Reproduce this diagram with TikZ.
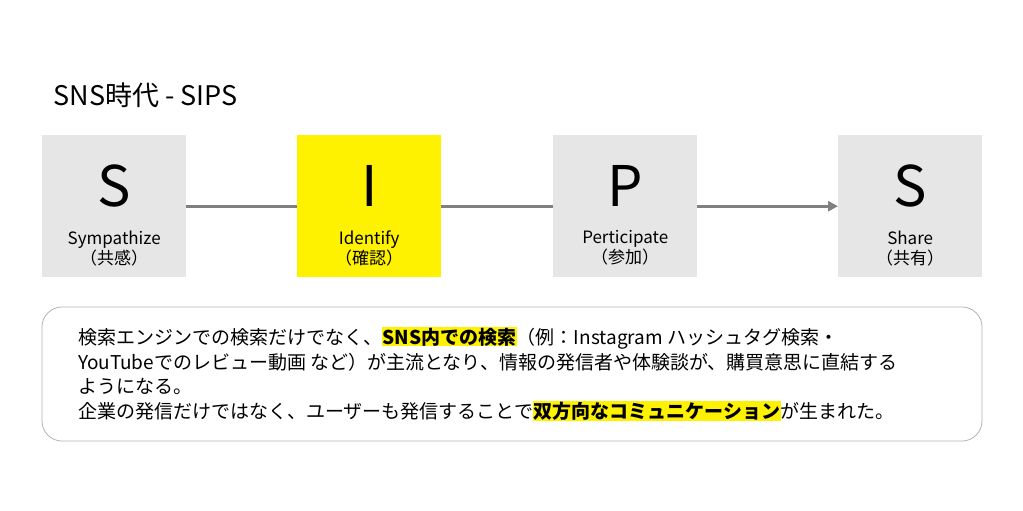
\documentclass[tikz,border=0pt]{standalone}
\usepackage{fontspec}
\setmainfont{Noto Sans CJK JP}
\usetikzlibrary{arrows.meta}
\definecolor{boxg}{HTML}{E7E6E6}
\definecolor{lineg}{HTML}{808080}
\newcommand{\hl}[1]{{\setlength{\fboxsep}{0.5pt}\colorbox{yellow}{\bfseries #1}}}
\begin{document}
\begin{tikzpicture}[x=1pt,y=-1pt,
  stagebox/.style={minimum width=144pt,minimum height=142pt,inner sep=0pt,anchor=north west},
  bigl/.style={font=\fontsize{56}{56}\selectfont},
  lab/.style={font=\fontsize{17}{20}\selectfont,align=center},
  conn/.style={draw=lineg,line width=3pt},
  body/.style={anchor=west,inner sep=0pt,font=\fontsize{19}{22}\selectfont}]
\useasboundingbox (0,0) rectangle (1023,511);
\node[anchor=west,font=\fontsize{27}{30}\selectfont] (title) at (50,95) {SNS時代 - SIPS};
\node[stagebox,fill=boxg] (b1) at (42,135) {};
\node[stagebox,fill=yellow] (b2) at (297,135) {};
\node[stagebox,fill=boxg] (b3) at (553,135) {};
\node[stagebox,fill=boxg] (b4) at (838,135) {};
\foreach \n/\L/\a/\b in {b1/S/Sympathize/（共感）,b2/I/Identify/（確認）,b3/P/Perticipate/（参加）,b4/S/Share/（共有）}{
  \node[bigl] (\n L) at ([yshift=20pt]\n.center) {\L};
  \node[lab] (\n t) at ([yshift=-42pt]\n.center) {\a\\\b};
}
\draw[conn] (b1.east) -- (b2.west);
\draw[conn] (b2.east) -- (b3.west);
\draw[conn,-{Triangle[length=10pt,width=10pt]}] (b3.east) -- (b4.west);
\draw[draw=lineg!60,line width=0.8pt,rounded corners=20pt] (42,307) rectangle (982,441);
\node[body] (l1) at (78,338) {検索エンジンでの検索だけでなく、\hl{SNS内での検索}（例：Instagram ハッシュタグ検索・};
\node[body] (l2) at (78,362) {YouTubeでのレビュー動画 など）が主流となり、情報の発信者や体験談が、購買意思に直結する};
\node[body] (l3) at (78,386) {ようになる。};
\node[body] (l4) at (78,411) {企業の発信だけではなく、ユーザーも発信することで\hl{双方向なコミュニケーション}が生まれた。};
\end{tikzpicture}
\end{document}
